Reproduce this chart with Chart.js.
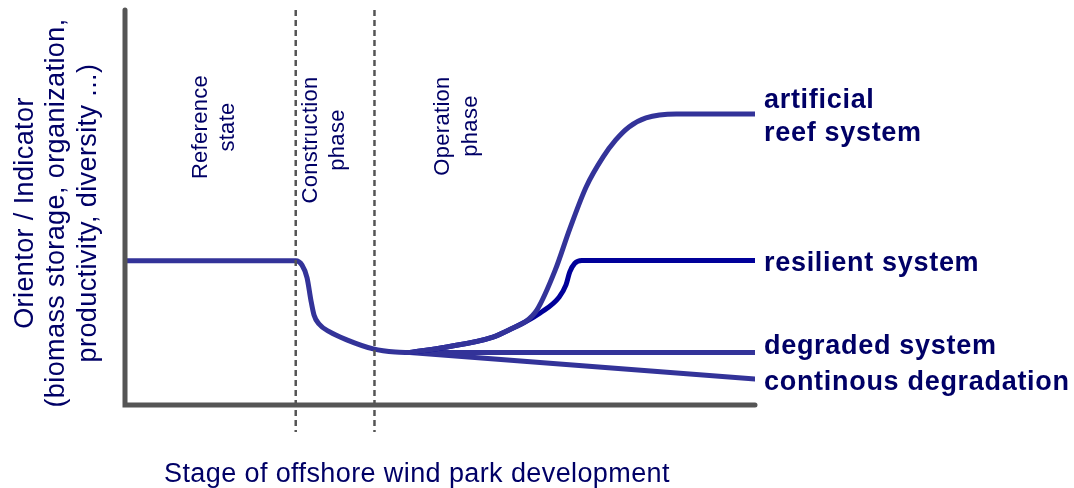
<!DOCTYPE html>
<html>
<head>
<meta charset="utf-8">
<script src="https://cdn.jsdelivr.net/npm/chart.js@4"></script>
<style>
  html, body { margin: 0; padding: 0; background: #fff; }
  #wrap { width: 1074px; height: 488px; }
</style>
</head>
<body>
<div id="wrap"><canvas id="chart" width="1074" height="488"></canvas></div>
<script>
// stage axis runs 0..100, indicator axis 0..100
const baseX = [0, 27.1, 28.1, 28.9, 29.5, 30.0, 30.8, 32.5, 35.2, 39.4, 42.9, 45.2];
const baseY = [36.5, 36.5, 35.4, 32.2, 26.6, 22.8, 20.5, 18.5, 16.5, 14.2, 13.4, 13.3];

const reefX = [45.2, 51.1, 58.4, 61.6, 63.5, 65.4, 68.3, 70.6, 73.2, 75.9, 77.9, 80.0, 82.7, 87.5, 100];
const reefY = [13.3, 14.7, 17.2, 19.5, 21.0, 24.1, 34.2, 44.6, 55.2, 62.8, 67.1, 70.4, 72.7, 73.7, 73.7];

const resilientX = [45.2, 51.1, 58.4, 61.6, 63.5, 65.9, 68.9, 70.0, 70.6, 71.4, 72.5, 100];
const resilientY = [13.3, 14.7, 17.2, 19.5, 21.0, 23.3, 27.3, 30.4, 33.7, 35.9, 36.6, 36.6];

const degradedX = [45.2, 100];
const degradedY = [13.3, 13.3];

const continousX = [45.2, 100];
const continousY = [13.3, 6.6];

const phaseBounds = [27.1, 39.6];
const phaseLabels = [['Reference', 'state'], ['Construction', 'phase'], ['Operation', 'phase']];
const seriesLabels = [['artificial', 'reef system'], ['resilient system'], ['degraded system'], ['continous degradation']];
const yTitle = ['Orientor / Indicator', '(biomass storage, organization,', 'productivity, diversity ...)'];
const xTitle = 'Stage of offshore wind park development';

const NAVY = '#000066';
const FONT = '"Liberation Sans", Arial, sans-serif';

function pts(xs, ys) {
    return xs.map((x, i) => ({ x: x, y: ys[i] }));
}

function lineSet(xs, ys, color, order) {
    return {
        data: pts(xs, ys),
        borderColor: color,
        borderWidth: 5,
        pointRadius: 0,
        fill: false,
        cubicInterpolationMode: 'monotone',
        borderCapStyle: 'round',
        borderJoinStyle: 'round',
        order: order,
    };
}

// axes, phase separators and all the text
const decorations = {
    id: 'decorations',
    afterDatasetsDraw(chart) {
        const ctx = chart.ctx;
        const area = chart.chartArea;
        const xs = chart.scales.x;
        const ys = chart.scales.y;
        ctx.save();

        // axis lines
        ctx.strokeStyle = '#555555';
        ctx.lineWidth = 5;
        ctx.lineCap = 'round';
        ctx.beginPath();
        ctx.moveTo(area.left, area.top);
        ctx.lineTo(area.left, area.bottom);
        ctx.lineTo(area.right, area.bottom);
        ctx.stroke();

        // dashed phase boundaries
        ctx.lineWidth = 2.5;
        ctx.lineCap = 'butt';
        ctx.setLineDash([6, 4]);
        phaseBounds.forEach(v => {
            const px = xs.getPixelForValue(v);
            ctx.beginPath();
            ctx.moveTo(px, area.top);
            ctx.lineTo(px, area.bottom + 27);
            ctx.stroke();
        });
        ctx.setLineDash([]);

        ctx.fillStyle = NAVY;
        ctx.textAlign = 'center';
        ctx.textBaseline = 'alphabetic';

        // rotated phase labels
        const phaseBase = [[207, 234], [317, 344], [449, 477]];
        const phaseMid = [127, 140, 126];
        ctx.font = '22px ' + FONT;
        ctx.letterSpacing = '0.3px';
        phaseLabels.forEach((lines, i) => {
            lines.forEach((t, j) => {
                ctx.save();
                ctx.translate(phaseBase[i][j], phaseMid[i]);
                ctx.rotate(-Math.PI / 2);
                ctx.fillText(t, 0, 0);
                ctx.restore();
            });
        });

        // y title
        ctx.font = '27px ' + FONT;
        ctx.letterSpacing = '0.4px';
        const yBase = [33, 64, 96];
        yTitle.forEach((t, j) => {
            ctx.save();
            ctx.translate(yBase[j], 213);
            ctx.rotate(-Math.PI / 2);
            ctx.fillText(t, 0, 0);
            ctx.restore();
        });

        // x title
        ctx.textAlign = 'left';
        ctx.fillText(xTitle, 164, 482);

        // series labels beside line ends
        ctx.font = 'bold 27px ' + FONT;
        ctx.letterSpacing = '0.7px';
        const ends = [reefY, resilientY, degradedY, continousY].map(a => a[a.length - 1]);
        const offs = [[-6, 27], [10.5], [1.5], [11]];
        const lx = area.right + 9;
        seriesLabels.forEach((lines, i) => {
            const py = ys.getPixelForValue(ends[i]);
            lines.forEach((t, j) => ctx.fillText(t, lx, py + offs[i][j]));
        });

        ctx.restore();
    }
};

new Chart(document.getElementById('chart'), {
    type: 'line',
    data: {
        datasets: [
            lineSet(baseX, baseY, '#333399', 0),
            lineSet(reefX, reefY, '#333399', 1),
            lineSet(resilientX, resilientY, '#000099', 2),
            lineSet(degradedX, degradedY, '#333399', 3),
            lineSet(continousX, continousY, '#333399', 4),
        ],
    },
    options: {
        responsive: false,
        animation: false,
        layout: { padding: { left: 125, right: 319, top: 10, bottom: 83 } },
        plugins: { legend: { display: false }, tooltip: { enabled: false } },
        scales: {
            x: { type: 'linear', min: 0, max: 100, display: false },
            y: { min: 0, max: 100, display: false },
        },
    },
    plugins: [decorations],
});
</script>
</body>
</html>
